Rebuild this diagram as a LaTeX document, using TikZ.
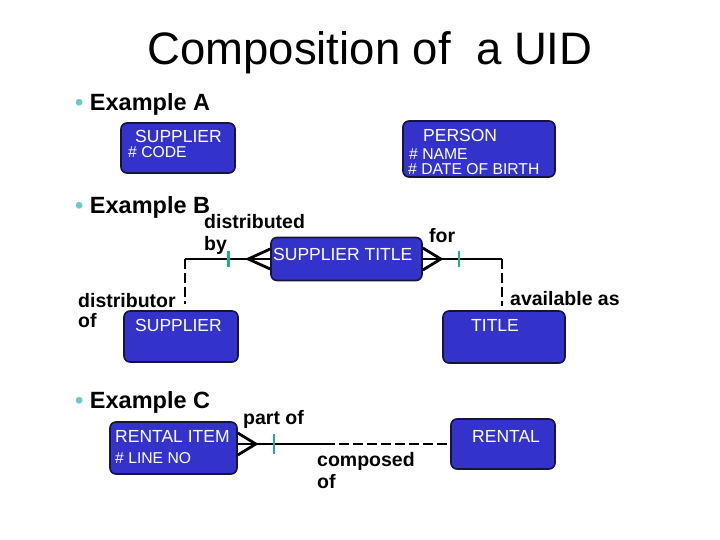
\documentclass[tikz,border=0pt]{standalone}
\usepackage{fontspec}
\setmainfont{Liberation Sans}
\usepackage{tikz}
\usetikzlibrary{calc}
\definecolor{entblue}{RGB}{51,51,204}
\definecolor{entline}{RGB}{20,20,60}
\definecolor{tickteal}{RGB}{30,175,145}
\definecolor{bulletteal}{RGB}{110,200,200}

\begin{document}
\begin{tikzpicture}[x=1pt,y=-1pt,
  ent/.style={draw=entline,line width=1.6pt,fill=entblue,rounded corners=6pt,inner sep=0pt},
  ename/.style={text=white,font=\fontsize{17.5}{18}\selectfont,inner sep=0pt,anchor=base west},
  ekey/.style={text=white,font=\fontsize{15.7}{16}\selectfont,inner sep=0pt,anchor=base west},
  head/.style={font=\fontsize{23.5}{24}\selectfont\bfseries,inner sep=0pt,anchor=base west},
  lab/.style={font=\fontsize{19.5}{22}\selectfont\bfseries,inner sep=0pt,anchor=north west,align=left},
  rel/.style={line width=2.8pt},
  opt/.style={line width=2.8pt,dash pattern=on 10pt off 4pt},
  tick/.style={draw=tickteal,line width=2.6pt}]
\useasboundingbox (0,0) rectangle (720,540);
\node[font=\fontsize{45.5}{47}\selectfont,anchor=base] (title) at (370,65) {Composition of\ \ a UID};
% example A
\node[head] (hA) at (75,111) {\textcolor{bulletteal}{\textbullet}\ Example A};
\node[ent,minimum width=114,minimum height=50] (supA) at (178,148) {};
\node[ename] (supAn) at (135,143) {SUPPLIER};
\node[ekey] (supAk) at (128,158) {\# CODE};
\node[ent,minimum width=152,minimum height=56] (per) at (479,149) {};
\node[ename] (pern) at (423,142) {PERSON};
\node[ekey] (perk1) at (409,160) {\# NAME};
\node[ekey] (perk2) at (408,175) {\# DATE OF BIRTH};
% example B
\node[head] (hB) at (75,214) {\textcolor{bulletteal}{\textbullet}\ Example B};
\node[ent,minimum width=151,minimum height=43] (st) at (346.5,259) {};
\node[ename] (stn) at (273,260) {SUPPLIER TITLE};
\node[ent,minimum width=114,minimum height=51] (supB) at (181,336.5) {};
\node[ename] (supBn) at (135,331) {SUPPLIER};
\node[ent,minimum width=122,minimum height=52] (tit) at (504,337) {};
\node[ename] (titn) at (471,331) {TITLE};
\coordinate (cL) at (185,259);
\coordinate (cR) at (502,259);
\draw[rel] (st.west) -- (cL);
\draw[opt,shorten >=6pt] (cL) -- (cL |- supB.north);
\draw[rel] (st.east) -- (cR);
\draw[opt,shorten >=4pt] (cR) -- (cR |- tit.north);
\draw[rel] ($(st.west)+(0,-10)$) -- ($(st.west)+(-22,0)$) -- ($(st.west)+(0,10)$);
\draw[rel] ($(st.east)+(0,-11)$) -- ($(st.east)+(18,0)$) -- ($(st.east)+(0,11)$);
\draw[tick] ($(st.west)+(-42,-8)$) -- ($(st.west)+(-42,8)$);
\draw[tick] ($(st.east)+(36,-8)$) -- ($(st.east)+(36,8)$);
\node[lab] (db) at (204,214) {distributed\\by};
\node[lab] (fo) at (429,228) {for};
\node[lab] (dof) at (78,293) {distributor\\[-2pt]of};
\node[lab] (av) at (510,291) {available as};
% example C
\node[head] (hC) at (75,408) {\textcolor{bulletteal}{\textbullet}\ Example C};
\node[ent,minimum width=127,minimum height=52] (ri) at (173.5,448) {};
\node[ename] (rin) at (115,442) {RENTAL ITEM};
\node[ekey] (rik) at (115,463) {\# LINE NO};
\node[ent,minimum width=104,minimum height=50] (ren) at (503,444) {};
\node[ename] (renn) at (472,442) {RENTAL};
\coordinate (cM) at (325,444);
\draw[rel] (ri.east |- ren.west) -- (cM);
\draw[opt] (cM) -- (ren.west);
\draw[rel] ($(ri.east |- ren.west)+(0,-11)$) -- ($(ri.east |- ren.west)+(18,0)$) -- ($(ri.east |- ren.west)+(0,11)$);
\draw[tick] ($(ri.east |- ren.west)+(36,-10)$) -- ($(ri.east |- ren.west)+(36,10)$);
\node[lab] (po) at (243,410) {part of};
\node[lab] (co) at (317,452) {composed\\of};
\end{tikzpicture}
\end{document}
